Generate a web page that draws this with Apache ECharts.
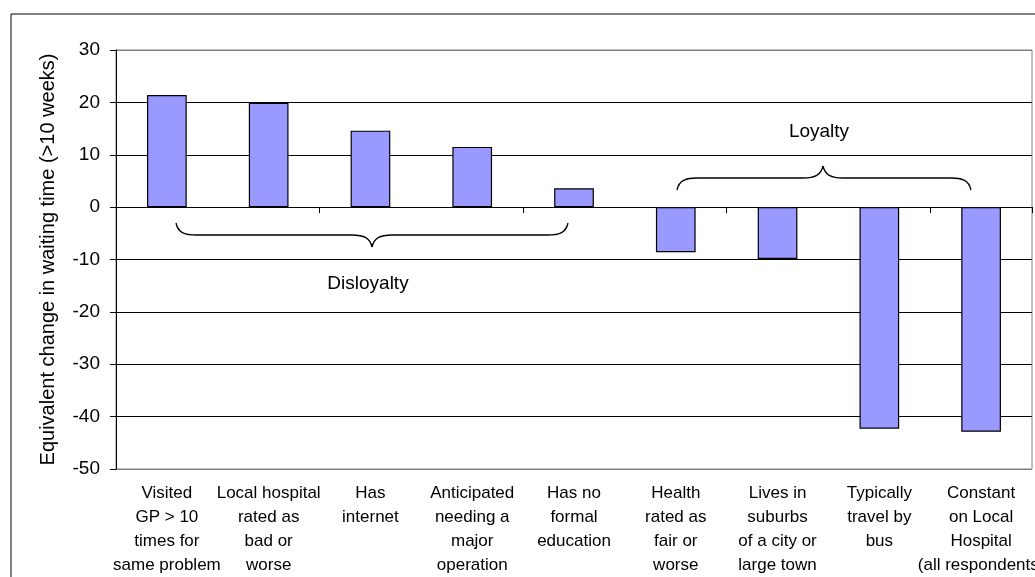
<!DOCTYPE html>
<html>
<head>
<meta charset="utf-8">
<script src="https://cdn.jsdelivr.net/npm/echarts@6/dist/echarts.min.js"></script>
<style>html,body{margin:0;padding:0;background:#fff;}#c{width:1035px;height:577px;}</style>
</head>
<body>
<div id="c"></div>
<script>
var categories = [
  "Visited\nGP > 10\ntimes for\nsame problem",
  "Local hospital\nrated as\nbad or\nworse",
  "Has\ninternet",
  "Anticipated\nneeding a\nmajor\noperation",
  "Has no\nformal\neducation",
  "Health\nrated as\nfair or\nworse",
  "Lives in\nsuburbs\nof a city or\nlarge town",
  "Typically\ntravel by\nbus",
  "Constant\non Local\nHospital\n(all respondents)"
];
var values = [21.4, 19.9, 14.6, 11.5, 3.6, -8.6, -9.9, -42.3, -42.9];
var yTicks = [-50, -40, -30, -20, -10, 0, 10, 20, 30];
var yTitle = "Equivalent change in waiting time (>10 weeks)";
var groupLabels = ["Disloyalty", "Loyalty"];

var FONT = "Arial, 'Liberation Sans', sans-serif";
var chart = echarts.init(document.getElementById('c'), null, {renderer: 'canvas'});
var gridColors = yTicks.map(function (v, i) { return (i === 0 || i === yTicks.length - 1) ? '#808080' : '#000'; });

// brace drawing: x0..x1 ends, yEnd = end y, yMid = horizontal y, yTip = tip y, xTip = tip x
function brace(x0, x1, xTip, yEnd, yMid, yTip) {
  var d = yMid - yEnd, t = yTip - yMid;
  var st = {fill: null, stroke: '#000', lineWidth: 1.3};
  return [
    {type: 'bezierCurve', shape: {x1: x0, y1: yEnd, x2: x0 + 20, y2: yMid, cpx1: x0 + 2, cpy1: yEnd + d * 0.85, cpx2: x0 + 10, cpy2: yMid}, style: st, z: 100},
    {type: 'line', shape: {x1: x0 + 20, y1: yMid, x2: xTip - 20, y2: yMid}, style: st, z: 100},
    {type: 'bezierCurve', shape: {x1: xTip - 20, y1: yMid, x2: xTip, y2: yTip, cpx1: xTip - 8, cpy1: yMid, cpx2: xTip - 2, cpy2: yMid + t * 0.25}, style: st, z: 100},
    {type: 'bezierCurve', shape: {x1: xTip, y1: yTip, x2: xTip + 20, y2: yMid, cpx1: xTip + 2, cpy1: yMid + t * 0.25, cpx2: xTip + 8, cpy2: yMid}, style: st, z: 100},
    {type: 'line', shape: {x1: xTip + 20, y1: yMid, x2: x1 - 20, y2: yMid}, style: st, z: 100},
    {type: 'bezierCurve', shape: {x1: x1 - 20, y1: yMid, x2: x1, y2: yEnd, cpx1: x1 - 10, cpy1: yMid, cpx2: x1 - 2, cpy2: yEnd + d * 0.85}, style: st, z: 100}
  ];
}

var graphics = [
  {type: 'rect', shape: {x: 11, y: 14, width: 1100, height: 700}, style: {fill: null, stroke: '#000', lineWidth: 1}, z: 100},
  {type: 'text', x: 368, y: 284, style: {text: groupLabels[0], fill: '#000', font: '19px ' + FONT, textAlign: 'center', textVerticalAlign: 'middle'}, z: 100},
  {type: 'text', x: 819, y: 132, style: {text: groupLabels[1], fill: '#000', font: '19px ' + FONT, textAlign: 'center', textVerticalAlign: 'middle'}, z: 100}
].concat(brace(176, 568, 372, 223, 235, 247)).concat(brace(677, 971, 823, 190, 178, 166));

chart.setOption({
  animation: false,
  backgroundColor: '#fff',
  grid: {left: 116, right: 3, top: 50, bottom: 108, containLabel: false, outerBoundsMode: 'none', show: true, borderColor: '#808080', borderWidth: 1, backgroundColor: 'transparent'},
  xAxis: [{
    type: 'category', data: categories,
    axisLine: {onZero: true, lineStyle: {color: '#000', width: 1}},
    axisTick: {show: true, length: 6, inside: false, lineStyle: {color: '#000'}},
    axisLabel: {show: false},
    splitLine: {show: false}
  }, {
    type: 'category', data: categories, position: 'bottom',
    axisLine: {show: false, onZero: false},
    axisTick: {show: false},
    axisLabel: {interval: 0, color: '#000', fontFamily: FONT, fontSize: 17, lineHeight: 24, margin: 12, hideOverlap: false}
  }],
  yAxis: {
    type: 'value', min: yTicks[0], max: yTicks[yTicks.length - 1], interval: 10,
    name: yTitle, nameLocation: 'middle', nameRotate: 90, nameGap: 58,
    nameTextStyle: {color: '#000', fontFamily: FONT, fontSize: 20},
    axisLine: {show: true, onZero: false, lineStyle: {color: '#000'}},
    axisTick: {show: true, length: 6, lineStyle: {color: '#000'}},
    axisLabel: {color: '#000', fontFamily: FONT, fontSize: 19, margin: 16},
    splitLine: {show: true, lineStyle: {color: gridColors, width: 1}}
  },
  series: [{
    type: 'bar', data: values, xAxisIndex: 0, barWidth: '39%',
    itemStyle: {color: '#9999FF', borderColor: '#000', borderWidth: 1.2}
  }],
  graphic: graphics
});
</script>
</body>
</html>
